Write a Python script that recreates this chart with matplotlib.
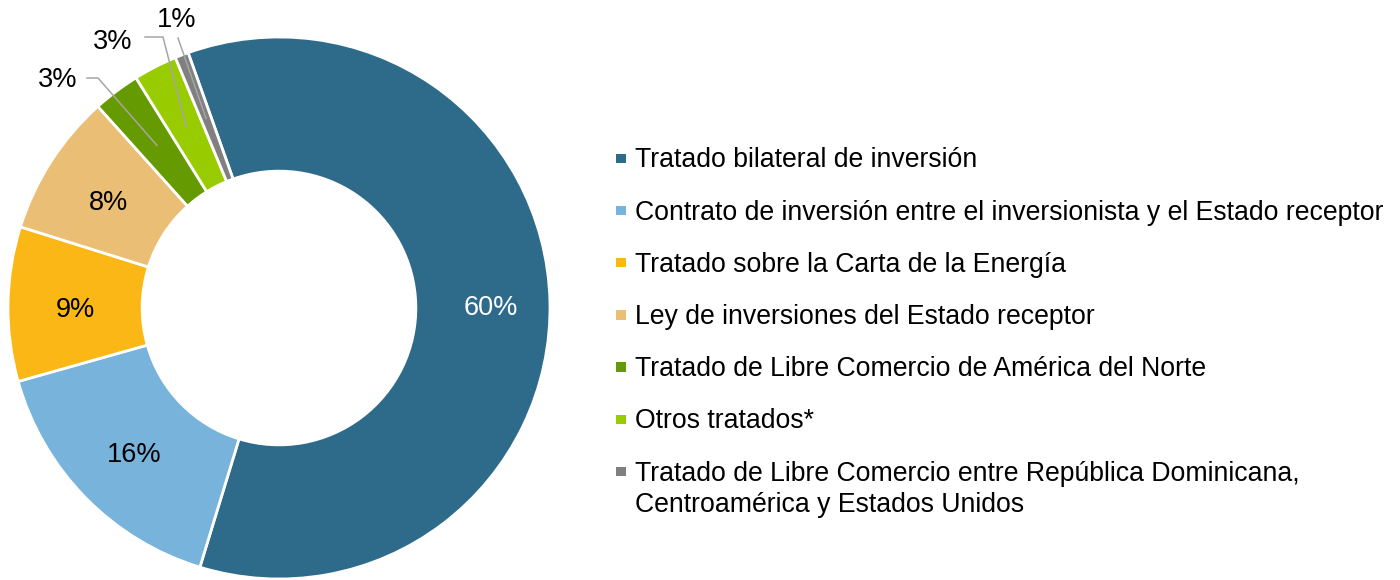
import numpy as np
import matplotlib.pyplot as plt
from matplotlib.patches import Rectangle

plt.rcParams['font.family'] = ['Liberation Sans', 'DejaVu Sans']

# datos
categorias = [
    'Tratado bilateral de inversión',
    'Contrato de inversión entre el inversionista y el Estado receptor',
    'Tratado sobre la Carta de la Energía',
    'Ley de inversiones del Estado receptor',
    'Tratado de Libre Comercio de América del Norte',
    'Otros tratados*',
    'Tratado de Libre Comercio entre República Dominicana,\nCentroamérica y Estados Unidos',
]
valores = [60.1, 15.9, 9.2, 8.5, 2.8, 2.6, 0.8]
etiquetas = ['60%', '16%', '9%', '8%', '3%', '3%', '1%']
colores = ['#2E6B8B', '#78B3DB', '#FBB715', '#EBBE76', '#659A00', '#99CC00', '#808080']

W, H = 1400, 580
fig = plt.figure(figsize=(14, 5.8), dpi=100)

# donut: centro (279, 308) px, radio 271 px
cx, cy, R = 279, 308, 271
ax = fig.add_axes([(cx - R) / W, (H - cy - R) / H, 2 * R / W, 2 * R / H])
wedges, _ = ax.pie(valores, colors=colores, startangle=109.6, counterclock=False,
                   radius=1, wedgeprops=dict(width=0.495, edgecolor='white', linewidth=2))
ax.set_xlim(-1, 1)
ax.set_ylim(-1, 1)
ax.set_aspect('equal')
ax.axis('off')

def px2data(px, py):
    return (px - cx) / R, (cy - py) / R

fs = 19.5
dy = -5 / R  # bajar un poco el texto centrado
# etiquetas dentro de los sectores grandes
for i in range(4):
    w = wedges[i]
    ang = np.deg2rad((w.theta1 + w.theta2) / 2)
    r = 0.78 if i == 0 else 0.75
    ax.text(r * np.cos(ang), r * np.sin(ang) + dy, etiquetas[i],
            ha='center', va='center', fontsize=fs,
            color='white' if i == 0 else 'black')

# etiquetas con líneas guía para los sectores pequeños
guias = {
    4: dict(texto=(58, 80), linea=[(87, 78), (98, 78)]),
    5: dict(texto=(113, 42), linea=[(145, 37), (163, 37)]),
    6: dict(texto=(177, 20), linea=[(178, 38)]),
}
for i, g in guias.items():
    w = wedges[i]
    ang = np.deg2rad((w.theta1 + w.theta2) / 2)
    fin = (0.75 * np.cos(ang), 0.75 * np.sin(ang))
    pts = [px2data(*p) for p in g['linea']] + [fin]
    xs, ys = zip(*pts)
    ax.plot(xs, ys, color='#A6A6A6', linewidth=1.1, clip_on=False)
    tx, ty = px2data(*g['texto'])
    ax.text(tx, ty, etiquetas[i], ha='center', va='center', fontsize=fs, clip_on=False)

# leyenda a mano (el marcador va con la primera línea del texto)
fs_leg = 19.2
fs_px = fs_leg * 100 / 72
y0, paso = 158, 52.2
for i, (cat, col) in enumerate(zip(categorias, colores)):
    yc = y0 + paso * i
    fig.add_artist(Rectangle((616 / W, 1 - (yc + 5) / H), 9.5 / W, 9.5 / H,
                             transform=fig.transFigure, facecolor=col, edgecolor='none'))
    fig.text(635 / W, 1 - (yc - 0.547 * fs_px + 4) / H, cat, ha='left', va='top',
             fontsize=fs_leg, linespacing=1.25)

fig.savefig('out.png', dpi=100)
